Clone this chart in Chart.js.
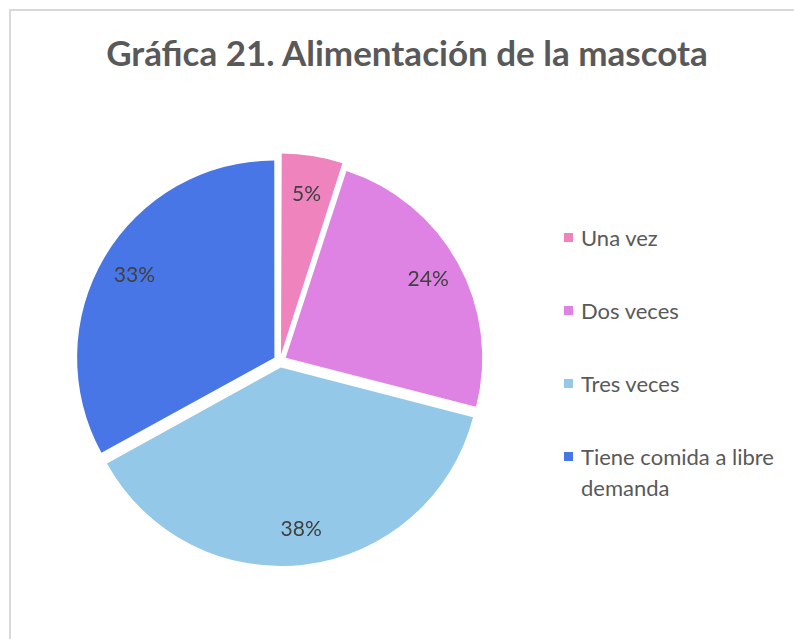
<!DOCTYPE html>
<html lang="es">
<head>
<meta charset="UTF-8">
<title>Gráfica 21. Alimentación de la mascota</title>
<script src="https://cdn.jsdelivr.net/npm/chart.js"></script>
<style>
    body {
        margin: 0;
        width: 794px;
        height: 639px;
        overflow: hidden;
        background: #fff;
        font-family: Lato, "Open Sans", sans-serif;
    }
    .frame {
        position: absolute;
        left: 9px;
        top: 9px;
        width: 800px;
        height: 700px;
        border: 2px solid #d9d9d9;
        box-sizing: border-box;
    }
    .title {
        position: absolute;
        left: 0;
        width: 814px;
        top: 31px;
        text-align: center;
        font-size: 35px;
        font-weight: bold;
        color: #595959;
    }
    .pie-box {
        position: absolute;
        left: 0;
        top: 111px;
        width: 560px;
        height: 500px;
    }
    .legend {
        position: absolute;
        left: 563px;
        top: 222px;
        width: 220px;
        color: #595959;
        font-size: 22px;
        line-height: 31px;
    }
    .legend div {
        position: relative;
        padding-left: 18px;
        margin-bottom: 42px;
    }
    .legend span {
        position: absolute;
        left: 1px;
        top: 11px;
        width: 9px;
        height: 9px;
    }
</style>
</head>
<body>
<div class="frame"></div>
<div class="title">Gráfica 21. Alimentación de la mascota</div>
<div class="pie-box"><canvas id="pie"></canvas></div>
<div class="legend" id="legend"></div>

<script>
const categories = ['Una vez', 'Dos veces', 'Tres veces', 'Tiene comida a libre demanda'];
const values = [5, 24, 38, 33];
const colors = ['#ef83be', '#de82e3', '#94c8e8', '#4876e6'];

// percent labels inside the slices
const pctLabels = {
    id: 'pctLabels',
    afterDatasetsDraw(chart) {
        const ctx = chart.ctx;
        const meta = chart.getDatasetMeta(0);
        const total = values.reduce((a, b) => a + b, 0);
        ctx.save();
        ctx.font = '21px Lato, "Open Sans", sans-serif';
        ctx.fillStyle = '#404040';
        ctx.textAlign = 'center';
        ctx.textBaseline = 'middle';
        meta.data.forEach((arc, i) => {
            const p = arc.getProps(['x', 'y', 'startAngle', 'endAngle', 'outerRadius'], true);
            const mid = (p.startAngle + p.endAngle) / 2;
            const r = p.outerRadius * 0.83 + 6;
            const x = p.x + Math.cos(mid) * r;
            const y = p.y + Math.sin(mid) * r;
            ctx.fillText(Math.round(values[i] / total * 100) + '%', x, y);
        });
        ctx.restore();
    }
};

new Chart(document.getElementById('pie'), {
    type: 'pie',
    data: {
        labels: categories,
        datasets: [{
            data: values,
            backgroundColor: colors,
            borderWidth: 0,
            offset: 26
        }]
    },
    options: {
        responsive: true,
        maintainAspectRatio: false,
        animation: false,
        radius: 196.5,
        plugins: {
            legend: { display: false },
            tooltip: { enabled: false }
        }
    },
    plugins: [pctLabels]
});

// legend built from the same arrays
const legend = document.getElementById('legend');
categories.forEach((c, i) => {
    const item = document.createElement('div');
    const box = document.createElement('span');
    box.style.background = colors[i];
    item.appendChild(box);
    item.appendChild(document.createTextNode(c));
    legend.appendChild(item);
});
</script>
</body>
</html>
